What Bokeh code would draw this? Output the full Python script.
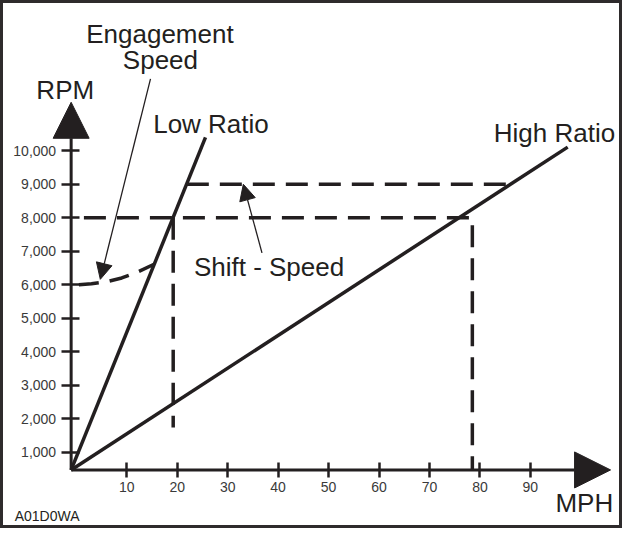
from bokeh.plotting import figure
from bokeh.models import Range1d, FixedTicker, NumeralTickFormatter, Label, Arrow, NormalHead
from bokeh.embed import file_html
from bokeh.resources import INLINE

INK = "#231f20"
TICK_INK = "#3a3a3a"

# ---- axis scale ----
mph_ticks = [10, 20, 30, 40, 50, 60, 70, 80, 90]
rpm_ticks = [1000, 2000, 3000, 4000, 5000, 6000, 7000, 8000, 9000, 10000]

# axes corner (the drawn axes cross a little off zero) and arrow tips
corner_mph = -1.03
corner_rpm = 465
axis_tip_mph = 105.9
axis_tip_rpm = 11450

# ---- series ----
low_ratio_mph = [corner_mph, 25.6]
low_ratio_rpm = [corner_rpm, 10400]
high_ratio_mph = [corner_mph, 97.4]
high_ratio_rpm = [corner_rpm, 10110]

shift8000_mph = [1.5, 78.5, 78.5]
shift8000_rpm = [8000, 8000, corner_rpm]
low_shift_mph = [19.2, 19.2]
low_shift_rpm = [8000, 1730]
shift9000_mph = [21.9, 86.1]
shift9000_rpm = [9000, 9000]

engage_mph = [0.5, 3, 6, 9, 12, 15.4]
engage_rpm = [6000, 6030, 6090, 6200, 6370, 6610]

p = figure(width=622, height=528, output_backend="svg", toolbar_location=None,
           x_range=Range1d(-14.439, 108.86), y_range=Range1d(-1374.5, 14400.9),
           min_border=0, styles={"border": "3px solid #2e2b2c"})
p.title.visible = False
p.grid.visible = False
p.outline_line_color = None

for ax, ticks in ((p.xaxis[0], mph_ticks), (p.yaxis[0], rpm_ticks)):
    ax.ticker = FixedTicker(ticks=ticks)
    ax.axis_line_color = None
    ax.major_tick_line_color = INK
    ax.major_tick_line_width = 2.5
    ax.minor_tick_line_color = None
    ax.major_label_text_font = "Liberation Sans"
    ax.major_label_text_font_size = "14px"
    ax.major_label_text_color = TICK_INK

p.xaxis.fixed_location = corner_rpm
p.yaxis.fixed_location = corner_mph
p.xaxis.major_tick_in = 7
p.xaxis.major_tick_out = 8
p.xaxis.major_label_standoff = 4
p.yaxis.major_tick_in = 8
p.yaxis.major_tick_out = 10
p.yaxis.major_label_standoff = 5
p.yaxis.formatter = NumeralTickFormatter(format="0,0")

# axis lines with arrow heads
p.add_layout(Arrow(end=NormalHead(size=36, fill_color=INK, line_color=INK, line_width=1),
                   x_start=corner_mph, y_start=corner_rpm, x_end=corner_mph, y_end=axis_tip_rpm,
                   line_color=INK, line_width=3))
p.add_layout(Arrow(end=NormalHead(size=36, fill_color=INK, line_color=INK, line_width=1),
                   x_start=corner_mph, y_start=corner_rpm, x_end=axis_tip_mph, y_end=corner_rpm,
                   line_color=INK, line_width=3))

dash = "22 11"
p.line(low_ratio_mph, low_ratio_rpm, line_color=INK, line_width=3.5)
p.line(high_ratio_mph, high_ratio_rpm, line_color=INK, line_width=3.5)
p.line(shift8000_mph, shift8000_rpm, line_color=INK, line_width=3.5, line_dash=dash)
p.line(low_shift_mph, low_shift_rpm, line_color=INK, line_width=3.5, line_dash=dash)
p.line(shift9000_mph, shift9000_rpm, line_color=INK, line_width=3.5, line_dash=dash)
p.line(engage_mph, engage_rpm, line_color=INK, line_width=3.5, line_dash="20 11")

# pointer arrows
p.add_layout(Arrow(end=NormalHead(size=16, fill_color=INK, line_color=INK, line_width=1),
                   x_start=14.7, y_start=12150, x_end=4.75, y_end=6160,
                   line_color=INK, line_width=1.3))
p.add_layout(Arrow(end=NormalHead(size=16, fill_color=INK, line_color=INK, line_width=1),
                   x_start=36.8, y_start=6950, x_end=33.1, y_end=9000,
                   line_color=INK, line_width=1.3))


def lab(text, x, y, size="26px", font="Liberation Sans", color=INK):
    p.add_layout(Label(x=x, y=y, text=text, text_font=font, text_font_size=size,
                       text_color=color, text_align="center", text_baseline="alphabetic"))


lab("Engagement", 16.57, 13485)
lab("Speed", 16.67, 12705)
lab("RPM", -2.2, 11829)
lab("Low Ratio", 26.69, 10806)
lab("High Ratio", 94.77, 10543)
lab("Shift - Speed", 38.2, 6525)
lab("MPH", 100.7, -532)
lab("A01D0WA", -5.79, -921, size="14px")

open("out.html", "w").write(file_html(p, INLINE))
